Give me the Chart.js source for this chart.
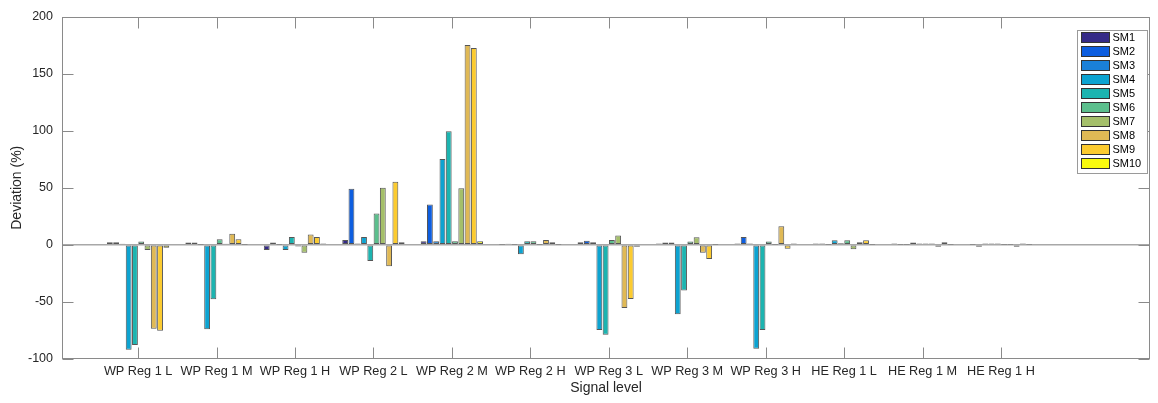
<!DOCTYPE html>
<html>
<head>
<meta charset="utf-8">
<script src="https://cdn.jsdelivr.net/npm/chart.js@4"></script>
<style>
  html, body { margin: 0; padding: 0; background: #fff; }
  #wrap { width: 1158px; height: 403px; }
</style>
</head>
<body>
<div id="wrap"><canvas id="chart" width="1158" height="403"></canvas></div>
<script>
// categories on the x axis
const categories = ['WP Reg 1 L', 'WP Reg 1 M', 'WP Reg 1 H', 'WP Reg 2 L', 'WP Reg 2 M', 'WP Reg 2 H',
                    'WP Reg 3 L', 'WP Reg 3 M', 'WP Reg 3 H', 'HE Reg 1 L', 'HE Reg 1 M', 'HE Reg 1 H'];

// deviation (%) for each signal model, one value per category
const sm1  = [2.2, 2.0, -4.6, 4.3, 3.2, 0.2, 2.3, 1.2, 1.2, 1.2, 1.2, 0.2];
const sm2  = [2.2, 2.0, 2.0, 49.2, 35.3, 1.0, 3.5, 2.0, 6.9, 1.2, 0.3, -1.7];
const sm3  = [1.0, 0.3, 0.3, 1.2, 3.2, 0.2, 2.3, 2.0, 1.2, 0.3, 0.3, 1.2];
const sm4  = [-92, -74, -4.6, 6.9, 75.2, -8.2, -74.6, -60.8, -91, 4.0, 2.0, 1.2];
const sm5  = [-87.7, -47.7, 6.9, -14.2, 99.5, 3.2, -78.7, -39.9, -74.6, 1.4, 1.2, 1.2];
const sm6  = [3.0, 4.9, -1.4, 27.5, 3.2, 3.2, 4.3, 2.9, 2.9, 4.0, 1.2, 0.3];
const sm7  = [-4.6, 1.0, -6.9, 50, 49.5, 0.2, 8.1, 6.7, 0.3, -3.8, 1.2, 0.3];
const sm8  = [-73.5, 9.8, 9.0, -18.8, 175, 4.3, -55.3, -6.9, 16.2, 2.3, -1.7, -1.7];
const sm9  = [-75.2, 4.9, 6.9, 55.3, 172.5, 2.3, -47.5, -12.4, -3.5, 4.0, 2.3, 1.2];
const sm10 = [-2.6, 0.3, 1.2, 2.3, 3.2, 0.2, -1.7, 0.3, 1.2, 0.2, 0.2, 0.2];

const seriesNames = ['SM1', 'SM2', 'SM3', 'SM4', 'SM5', 'SM6', 'SM7', 'SM8', 'SM9', 'SM10'];
const seriesValues = [sm1, sm2, sm3, sm4, sm5, sm6, sm7, sm8, sm9, sm10];
const colors = ['#352a87', '#0d5ee0', '#1a80d8', '#0ca3d1', '#1cb4b0',
                '#5cbf8d', '#a4bf6a', '#e0b955', '#fccb2f', '#f9fb0e'];

// y axis ticks
const yTicks = [-100, -50, 0, 50, 100, 150, 200];

const FONT = "'Liberation Sans', Arial, Helvetica, sans-serif";
const AXIS_GRAY = '#8a8a8a';
const TEXT = '#262626';

// matlab style box with inward ticks + legend inside the axes
const axesBox = {
  id: 'axesBox',
  afterDraw(chart) {
    const { ctx, chartArea: a, scales: { x, y } } = chart;
    const L = Math.round(a.left) + 0.5, R = Math.round(a.right) - 0.5;
    const T = Math.round(a.top) + 0.5, B = Math.round(a.bottom) - 0.5;
    const tl = 11;
    ctx.save();
    ctx.strokeStyle = AXIS_GRAY;
    ctx.lineWidth = 1;
    ctx.strokeRect(L, T, R - L, B - T);
    ctx.beginPath();
    x.ticks.forEach(t => {
      const px = Math.round(x.getPixelForValue(t.value)) + 0.5;
      ctx.moveTo(px, B); ctx.lineTo(px, B - tl);
      ctx.moveTo(px, T); ctx.lineTo(px, T + tl);
    });
    y.ticks.forEach(t => {
      const py = Math.round(y.getPixelForValue(t.value)) + 0.5;
      ctx.moveTo(L, py); ctx.lineTo(L + tl, py);
      ctx.moveTo(R, py); ctx.lineTo(R - tl, py);
    });
    ctx.stroke();

    // legend
    const lw = 70, rowH = 14;
    const lx = Math.round(a.right) - 73 + 0.5, ly = Math.round(a.top) + 13 + 0.5;
    const lh = chart.data.datasets.length * rowH + 3;
    ctx.fillStyle = '#fff';
    ctx.fillRect(lx, ly, lw, lh);
    ctx.strokeStyle = '#9a9a9a';
    ctx.strokeRect(lx, ly, lw, lh);
    ctx.font = '11px ' + FONT;
    ctx.textBaseline = 'middle';
    chart.data.datasets.forEach((ds, i) => {
      const cy = ly + 6.5 + i * rowH;
      ctx.fillStyle = ds.backgroundColor;
      ctx.fillRect(lx + 4, Math.round(cy - 5), 28, 10);
      ctx.strokeStyle = '#333';
      ctx.strokeRect(lx + 4, Math.round(cy - 5) + 0.5, 28, 10);
      ctx.fillStyle = '#000';
      ctx.fillText(ds.label, lx + 35, cy + 0.5);
    });
    ctx.restore();
  }
};

const datasets = seriesNames.map((name, i) => ({
  label: name,
  data: seriesValues[i].map((v, j) => ({ x: j + 1, y: v })),
  backgroundColor: colors[i],
  borderColor: 'rgba(30,30,30,0.75)',
  borderWidth: 1,
  borderSkipped: false
}));

new Chart(document.getElementById('chart'), {
  type: 'bar',
  data: { datasets },
  options: {
    responsive: false,
    animation: false,
    devicePixelRatio: 1,
    categoryPercentage: 0.8,
    barPercentage: 0.93,
    layout: { padding: { left: 0, right: 8, top: 14, bottom: 0 } },
    plugins: {
      legend: { display: false },
      tooltip: { enabled: false }
    },
    scales: {
      x: {
        type: 'linear',
        offset: false,
        min: 0.03,
        max: 13.9,
        grid: { display: false, drawTicks: false },
        border: { display: false },
        afterBuildTicks: scale => { scale.ticks = categories.map((c, i) => ({ value: i + 1 })); },
        afterFit: scale => { scale.height = 44; },
        ticks: {
          autoSkip: false,
          maxRotation: 0,
          padding: 5,
          color: TEXT,
          font: { family: FONT, size: 12.7 },
          callback: v => categories[v - 1] || ''
        },
        title: {
          display: true,
          text: 'Signal level',
          color: TEXT,
          font: { family: FONT, size: 14 },
          padding: { top: 0, bottom: 6 }
        }
      },
      y: {
        min: -100,
        max: 200,
        afterBuildTicks: scale => { scale.ticks = yTicks.map(v => ({ value: v })); },
        afterFit: scale => { scale.width = 62; },
        grid: {
          drawTicks: false,
          lineWidth: 1.5,
          color: c => (c.tick && c.tick.value === 0 ? '#a8a8a8' : 'rgba(0,0,0,0)')
        },
        border: { display: false },
        ticks: {
          padding: 9,
          color: TEXT,
          font: { family: FONT, size: 12.5 }
        },
        title: {
          display: true,
          text: 'Deviation (%)',
          color: TEXT,
          font: { family: FONT, size: 14 },
          padding: { top: 9, bottom: 0 }
        }
      }
    }
  },
  plugins: [axesBox]
});
</script>
</body>
</html>
